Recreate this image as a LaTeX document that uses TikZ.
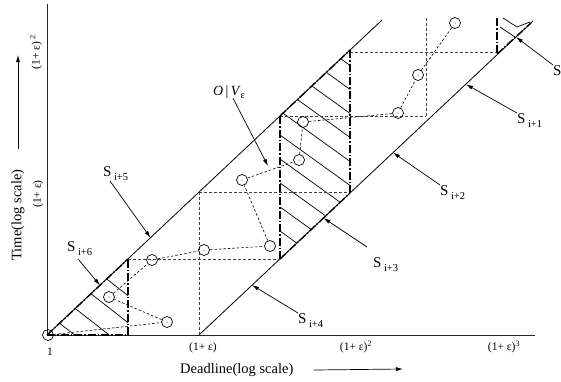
\documentclass[tikz,border=0pt]{standalone}
\usepackage{fontspec}
\setmainfont{Liberation Serif}
\usetikzlibrary{arrows.meta}
\tikzset{
	band/.style={line width=.8pt},
	axisline/.style={line width=.9pt, black!85},
	gridline/.style={line width=.7pt, black!75, dash pattern=on 3pt off 2pt},
	bound/.style={line width=1.4pt, dash pattern=on 8pt off 2pt on 1.5pt off 2pt},
	hatchline/.style={line width=.7pt},
	link/.style={line width=.6pt, dash pattern=on 2.5pt off 2pt},
	job/.style={circle, draw, line width=.7pt, inner sep=0pt, minimum size=11pt,
		path picture={\fill (path picture bounding box.center) circle (.5pt);}},
	pointer/.style={line width=.7pt, -{Latex[length=7pt,width=4pt]}},
	lab/.style={inner sep=0pt, font=\fontsize{15}{17}\selectfont},
	tick/.style={inner sep=0pt, font=\fontsize{11.5}{13}\selectfont},
	axlab/.style={inner sep=0pt, font=\fontsize{14.5}{17}\selectfont}
}
\newcommand{\slab}[1]{S\,\raisebox{-4pt}{\fontsize{10.5}{12}\selectfont #1}}

\begin{document}
\begin{tikzpicture}[x=1pt,y=-1pt]
\useasboundingbox (0,0) rectangle (561,381);
% axes
\coordinate (o) at (47,335);
\draw[axisline] (47,4) -- (o) -- (535,335);
% the two band lines
\draw[band] (o) -- (382,20);
\draw[band] (199,335) -- (533,21);
% hatching
\begin{scope}
\clip (47,335) -- (128,258.9) -- (128,335) -- cycle;
\foreach \k in {0,...,3}
	\draw[hatchline] (40,227+27*\k) -- ++(100,78);
\end{scope}
\begin{scope}
\clip (280,116) -- (350,50) -- (350,193) -- (280,259) -- cycle;
\foreach \k in {-7,...,2}
	\draw[hatchline] (270,175.8+24*\k) -- ++(90,64.8);
\end{scope}
\draw[hatchline] (503,18) -- (517,27) -- (530,22);
\draw[hatchline] (500,27) -- (515,37);
% grid
\draw[gridline] (128,259) -- (280,259);
\draw[gridline] (199,335) -- (199,192);
\draw[gridline] (199,192) -- (350,192);
\draw[gridline] (280,116) -- (426,116);
\draw[gridline] (426,18) -- (426,116);
\draw[gridline] (350,52) -- (497,52);
% borders of the hatched parts
\draw[bound] (47,335) -- (128,335) -- (128,259);
\draw[bound] (47,335) -- (128,259);
\draw[bound] (280,116) -- (280,259);
\draw[bound] (350,50) -- (350,193);
\draw[bound] (280,116) -- (350,50);
\draw[bound] (280,259) -- (350,193);
\draw[bound] (497,18) -- (497,54);
\draw[bound] (497,54) -- (531,23);
% jobs
\node[job] (j0) at (48,335) {};
\node[job] (j1) at (167,322) {};
\node[job] (j2) at (109,297) {};
\node[job] (j3) at (152,260) {};
\node[job] (j4) at (204,250) {};
\node[job] (j5) at (270,246) {};
\node[job] (j6) at (242,180) {};
\node[job] (j7) at (299,160) {};
\node[job] (j8) at (303,122) {};
\node[job] (j9) at (398,113) {};
\node[job] (j10) at (418,75) {};
\node[job] (j11) at (455,23) {};
\draw[link] (j0) -- (j1) -- (j2) -- (j3) -- (j4) -- (j5) -- (j6) -- (j7) -- (j8) -- (j9) -- (j10) -- (j11);
% labels
\node[lab, anchor=south west] (s5) at (103,181) {\slab{i+5}};
\node[lab, anchor=south west] (s6) at (67,256) {\slab{i+6}};
\node[lab, anchor=north west] (s4) at (298,313) {\slab{i+4}};
\node[lab, anchor=north west] (s3) at (373,257) {\slab{i+3}};
\node[lab, anchor=north west] (s2) at (440,185) {\slab{i+2}};
\node[lab, anchor=north west] (s1) at (517,113) {\slab{i+1}};
\node[lab, anchor=north west] (s0) at (553,65) {S};
\node[lab, anchor=base west, font=\fontsize{14}{16}\selectfont] (ov) at (213,95)
	{\textit{O}\,|\,\textit{V}\raisebox{-3pt}{\fontsize{10}{12}\selectfont ε}};
\coordinate (t5) at (150.5,237.7);
\coordinate (t6) at (100,285.3);
\coordinate (t4) at (252,285);
\coordinate (t3) at (323.5,218);
\coordinate (t2) at (393,152.6);
\coordinate (t1) at (466,84.3);
\coordinate (t0) at (516,37);
\coordinate (tov) at (268,166);
\draw[pointer] ([xshift=7pt]s5.south west) -- (t5);
\draw[pointer] ([xshift=11pt,yshift=-3pt]s6.south west) -- (t6);
\draw[pointer] (s4.north west) -- (t4);
\draw[pointer] ([xshift=-6pt,yshift=10pt]s3.north west) -- (t3);
\draw[pointer] (s2.north west) -- (t2);
\draw[pointer] (s1.north west) -- (t1);
\draw[pointer] (s0.north west) -- (t0);
\draw[pointer] ([xshift=4pt]ov.south) -- (tov);
% axis texts
\node[axlab, anchor=west] (xlab) at (180,370) {Deadline(log scale)};
\coordinate (xa) at (403,369);
\draw[pointer] ([xshift=20pt]xlab.east) -- (xa);
\node[axlab, rotate=90] (ylab) at (18,215) {Time(log scale)};
\coordinate (ya) at (18,55);
\draw[pointer] ([yshift=20pt]ylab.east) -- (ya);
\node[tick] (xt0) at (50,352) {1};
\node[tick] (xt1) at (203,348) {(1+ ε)};
\node[tick] (xt2) at (356,347) {(1+ ε)\textsuperscript{2}};
\node[tick] (xt3) at (504,347) {(1+ ε)\textsuperscript{3}};
\node[tick, rotate=90] (yt1) at (38,194) {(1+ ε)};
\node[tick, rotate=90] (yt2) at (36,52) {(1+ ε) \textsuperscript{2}};
\end{tikzpicture}
\end{document}
